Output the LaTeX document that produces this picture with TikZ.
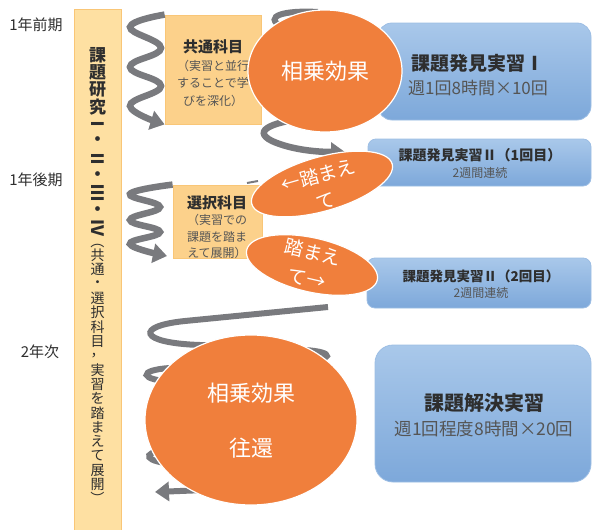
\documentclass[tikz,border=0pt]{standalone}
\usepackage{fontspec}
\setmainfont{Noto Sans CJK JP}
\usetikzlibrary{arrows.meta,shapes.geometric}
\definecolor{effectorange}{HTML}{F07F3C}
\definecolor{coilgray}{HTML}{797A7E}
\definecolor{barfill}{HTML}{FEE0A2}
\definecolor{barline}{HTML}{F9C677}
\definecolor{boxfill}{HTML}{FCD18B}
\definecolor{bluetop}{HTML}{A9C8EA}
\definecolor{bluebot}{HTML}{7DA8DA}
\definecolor{blueline}{HTML}{9DBEE4}
\definecolor{inkgray}{HTML}{2E2E2E}
\definecolor{subgray}{HTML}{555555}
\tikzset{coil/.style={draw=coilgray, line width=6.5pt, -{Triangle[length=14pt,width=19pt]}},
coilbit/.style={draw=coilgray, line width=6pt},
barbox/.style={draw=barline, fill=barfill, line width=0.8pt, inner sep=0pt},
subjbox/.style={draw=barline, fill=boxfill, line width=0.8pt, inner sep=0pt},
practicebox/.style={draw=blueline, top color=bluetop, bottom color=bluebot, line width=0.8pt, inner sep=0pt},
effect/.style={ellipse, draw=white, line width=1.2pt, fill=effectorange, inner sep=0pt},
effecttext/.style={text=white, align=center, inner sep=0pt},
yeartext/.style={text=inkgray, font=\fontsize{15}{15}\selectfont},
bartext/.style={text=inkgray, inner sep=0pt},
boxtitle/.style={text=inkgray, inner sep=0pt},
boxsub/.style={text=subgray, inner sep=0pt}}

\begin{document}
\begin{tikzpicture}[x=1pt,y=-1pt]
        \useasboundingbox (0,0) rectangle (592,530);

        % years on the left
        \node[yeartext] (zenki) at (36,25) {1年前期};
        \node[yeartext] (koki) at (36,180) {1年後期};
        \node[yeartext] (ninen) at (40,352) {2年次};

        % the long bar, text set one glyph under the other
        \node[barbox, minimum width=47, minimum height=524] (bar) at (97.5,271) {};
        \foreach \g/\r [count=\i from 0] in {課/0,題/0,研/0,究/0,Ⅰ/-90,・/0,Ⅱ/-90,・/0,Ⅲ/-90,・/0,Ⅳ/-90}
            \node[bartext, rotate=\r, font=\bfseries\fontsize{17}{17}\selectfont] (bb\i) at (97.5,55+17.3*\i) {\g};
        \foreach \g/\r [count=\i from 0] in {（/-90,共/0,通/0,・/0,選/0,択/0,科/0,目/0,，/0,実/0,習/0,を/0,踏/0,ま/0,え/0,て/0,展/0,開/0,）/-90}
            \node[bartext, rotate=\r, font=\fontsize{14}{14}\selectfont] (bp\i) at (97.5,241+14.33*\i) {\g};

        % practice boxes
        \node[practicebox, rounded corners=14, minimum width=213, minimum height=97] (hakken1) at (484.5,71.5) {};
        \node[boxtitle, font=\bfseries\fontsize{19}{19}\selectfont] (hakken1t) at (478,63) {課題発見実習Ⅰ};
        \node[boxsub, font=\fontsize{17}{17}\selectfont] (hakken1s) at (478,88) {週1回8時間×10回};

        \node[practicebox, rounded corners=8, minimum width=223, minimum height=47] (hakken2a) at (479.5,162.5) {};
        \node[boxtitle, font=\bfseries\fontsize{14}{14}\selectfont] (hakken2at) at (480,155) {課題発見実習Ⅱ（1回目）};
        \node[boxsub, font=\fontsize{12}{12}\selectfont] (hakken2as) at (480,173) {2週間連続};

        \node[practicebox, rounded corners=8, minimum width=224, minimum height=50] (hakken2b) at (479,283) {};
        \node[boxtitle, font=\bfseries\fontsize{13.5}{13.5}\selectfont] (hakken2bt) at (481,276) {課題発見実習Ⅱ（2回目）};
        \node[boxsub, font=\fontsize{12}{12}\selectfont] (hakken2bs) at (481,293) {2週間連続};

        \node[practicebox, rounded corners=18, minimum width=216, minimum height=137] (kaiketsu) at (483,413.5) {};
        \node[boxtitle, font=\bfseries\fontsize{20}{20}\selectfont] (kaiketsut) at (484,403) {課題解決実習};
        \node[boxsub, font=\fontsize{17.5}{17.5}\selectfont] (kaiketsus) at (484,429) {週1回程度8時間×20回};

        % subject boxes
        \node[subjbox, minimum width=96, minimum height=109] (kyotsu) at (213,69.5) {};
        \node[align=center, text=subgray, font=\fontsize{12}{17.5}\selectfont] (kyotsut) at (213,73)
            {{\bfseries\color{inkgray}\fontsize{15}{17.5}\selectfont 共通科目}\\（実習と並行\\することで学\\びを深化）};
        \node[subjbox, minimum width=89, minimum height=73] (sentaku) at (217.5,221.5) {};
        \node[align=center, text=subgray, font=\fontsize{12}{16.5}\selectfont] (sentakut) at (217,227)
            {{\bfseries\color{inkgray}\fontsize{15}{16.5}\selectfont 選択科目}\\（実習での\\課題を踏ま\\えて展開）};

        % coils
        \coordinate (tip1) at (345,152);
        \coordinate (tip2) at (155,492);
        \draw[coil] plot[smooth, tension=0.75] coordinates {(kyotsu.north west) (130,27) (161,48) (130,67) (161,86) (130,106) (kyotsu.south west)};
        \draw[coil] plot[smooth, tension=0.75] coordinates {(sentaku.north west) (130,194) (160,207) (130,220) (160,232) (130,244) (167,256)};
        \draw[coilbit] (318,12) .. controls (285,10) and (262,16) .. (282,27) -- (300,36);
        \draw[coil] (315,117) .. controls (275,121) and (250,130) .. (272,141) .. controls (292,150) and (318,152) .. (tip1);
        \draw[coilgray, line width=2pt] (258,181) -- (247,183);
        \draw[coil, line width=6pt] (328,307) -- (185,321)
            .. controls (135,326) and (138,343) .. (200,345) -- (305,350)
            .. controls (335,352) and (335,360) .. (300,362) -- (170,368)
            .. controls (138,370) and (138,380) .. (175,382) -- (320,410)
            .. controls (345,415) and (340,430) .. (310,432) -- (165,450)
            .. controls (140,453) and (145,462) .. (175,464) -- (290,472)
            .. controls (310,475) and (305,485) .. (280,487) -- (tip2);

        % effects
        \node[effect, minimum width=154, minimum height=122] (sojo1) at (325,71) {};
        \node[effecttext, font=\fontsize{22}{22}\selectfont] (sojo1t) at (325,71) {相乗効果};
        \node[effect, minimum width=146, minimum height=54, rotate=16] (fumae1) at (322,184) {};
        \node[effecttext, rotate=16, font=\fontsize{19}{27}\selectfont] (fumae1t) at (322,188) {←踏まえ\\て};
        \node[effect, minimum width=134, minimum height=54, rotate=-13] (fumae2) at (312,265) {};
        \node[effecttext, rotate=-13, font=\fontsize{19}{27}\selectfont] (fumae2t) at (310,265) {踏まえ\\て→};
        \node[effect, minimum width=212, minimum height=170] (sojo2) at (251,420) {};
        \node[effecttext, font=\fontsize{22}{27}\selectfont] (sojo2t) at (251,421) {相乗効果\\[28pt]往還};
\end{tikzpicture}
\end{document}
